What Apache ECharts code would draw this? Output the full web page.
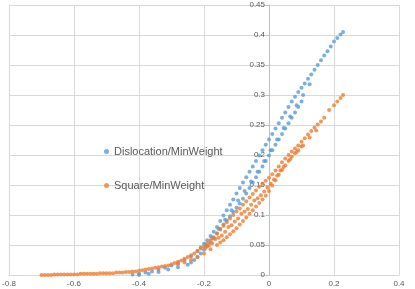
<!DOCTYPE html>
<html><head><meta charset="utf-8">
<script src="https://cdn.jsdelivr.net/npm/echarts@6/dist/echarts.min.js"></script>
<style>html,body{margin:0;padding:0;background:#fff}#c{width:415px;height:289px}</style>
</head><body><div id="c"></div>
<script>
const xTicks = [-0.8, -0.6, -0.4, -0.2, 0, 0.2, 0.4];
const yTicks = [0, 0.05, 0.1, 0.15, 0.2, 0.25, 0.3, 0.35, 0.4, 0.45];
const seriesNames = ['Dislocation/MinWeight', 'Square/MinWeight'];

const blueA = [[-0.42,0.001],[-0.40,0.002],[-0.38,0.004],[-0.36,0.006],[-0.34,0.009],[-0.32,0.012],[-0.30,0.016],[-0.28,0.020],[-0.26,0.025],[-0.24,0.031],[-0.22,0.040],[-0.21,0.046],[-0.20,0.052],[-0.19,0.058],[-0.18,0.065],[-0.17,0.072],[-0.16,0.080],[-0.15,0.090],[-0.14,0.099],[-0.13,0.108],[-0.12,0.117],[-0.11,0.126],[-0.10,0.136],[-0.09,0.145],[-0.08,0.154],[-0.07,0.163],[-0.06,0.172],[-0.05,0.181],[-0.04,0.190],[-0.03,0.199],[-0.02,0.208],[-0.01,0.217],[0.00,0.226],[0.01,0.235],[0.02,0.244],[0.03,0.253],[0.04,0.262],[0.05,0.271],[0.06,0.280],[0.07,0.289],[0.08,0.297],[0.09,0.305],[0.10,0.312],[0.11,0.319],[0.12,0.327],[0.13,0.334],[0.14,0.342],[0.15,0.350],[0.16,0.358],[0.17,0.366],[0.18,0.373],[0.19,0.381],[0.20,0.389],[0.21,0.395],[0.22,0.401],[0.228,0.405]];
const blueB = [[-0.40,0.000],[-0.37,0.002],[-0.34,0.005],[-0.31,0.009],[-0.28,0.013],[-0.25,0.017],[-0.24,0.021],[-0.23,0.025],[-0.22,0.030],[-0.21,0.036],[-0.20,0.042],[-0.19,0.048],[-0.18,0.054],[-0.17,0.061],[-0.16,0.069],[-0.15,0.077],[-0.14,0.084],[-0.13,0.091],[-0.12,0.098],[-0.11,0.105],[-0.10,0.112],[-0.09,0.119],[-0.08,0.127],[-0.07,0.136],[-0.06,0.145],[-0.05,0.154],[-0.04,0.163],[-0.03,0.172],[-0.02,0.181],[-0.01,0.190],[0.00,0.199],[0.01,0.208],[0.02,0.217],[0.03,0.226],[0.04,0.235],[0.05,0.244],[0.06,0.253],[0.07,0.262],[0.08,0.271],[0.09,0.280],[0.10,0.289]];
const blueC = [[-0.195,0.050],[-0.175,0.062],[-0.155,0.077],[-0.135,0.092],[-0.115,0.108],[-0.095,0.124],[-0.075,0.140],[-0.055,0.156],[-0.035,0.172],[-0.015,0.190],[0.005,0.208],[0.025,0.226],[0.045,0.245],[0.065,0.264],[0.085,0.283],[0.105,0.300],[0.125,0.318]];

const orangeTail = [[-0.70,0.000],[-0.69,0.000],[-0.68,0.000],[-0.67,0.000],[-0.66,0.001],[-0.65,0.001],[-0.64,0.001],[-0.63,0.001],[-0.62,0.001],[-0.61,0.001],[-0.60,0.001],[-0.59,0.001],[-0.58,0.002],[-0.57,0.002],[-0.56,0.002],[-0.55,0.002],[-0.54,0.002],[-0.53,0.002],[-0.52,0.003],[-0.51,0.003],[-0.50,0.003],[-0.49,0.003],[-0.48,0.003],[-0.47,0.004],[-0.46,0.004],[-0.45,0.004],[-0.44,0.005],[-0.43,0.005],[-0.42,0.006],[-0.41,0.006],[-0.40,0.007],[-0.39,0.008],[-0.38,0.009],[-0.37,0.010],[-0.36,0.011],[-0.35,0.012],[-0.34,0.013],[-0.33,0.014],[-0.32,0.015],[-0.31,0.016],[-0.30,0.018]];
const orangeA = [[-0.29,0.020],[-0.28,0.022],[-0.27,0.024],[-0.26,0.027],[-0.25,0.030],[-0.24,0.033],[-0.23,0.036],[-0.22,0.040],[-0.21,0.044],[-0.20,0.048],[-0.19,0.053],[-0.18,0.058],[-0.17,0.063],[-0.16,0.069],[-0.15,0.076],[-0.14,0.082],[-0.13,0.088],[-0.12,0.094],[-0.11,0.100],[-0.10,0.106],[-0.09,0.111],[-0.08,0.117],[-0.07,0.123],[-0.06,0.129],[-0.05,0.135],[-0.04,0.141],[-0.03,0.147],[-0.02,0.152],[-0.01,0.157],[0.00,0.162],[0.01,0.168],[0.02,0.174],[0.03,0.181],[0.04,0.188],[0.05,0.194],[0.06,0.200],[0.07,0.206],[0.08,0.211],[0.09,0.216],[0.10,0.222],[0.11,0.228],[0.12,0.234],[0.13,0.240],[0.14,0.246],[0.15,0.251],[0.16,0.256],[0.17,0.262],[0.185,0.275],[0.20,0.283],[0.21,0.289],[0.22,0.295],[0.228,0.300]];
const orangeB = [[-0.28,0.018],[-0.26,0.021],[-0.24,0.025],[-0.22,0.030],[-0.20,0.036],[-0.18,0.043],[-0.16,0.050],[-0.15,0.054],[-0.14,0.058],[-0.13,0.063],[-0.12,0.068],[-0.11,0.073],[-0.10,0.078],[-0.09,0.084],[-0.08,0.090],[-0.07,0.096],[-0.06,0.102],[-0.05,0.108],[-0.04,0.114],[-0.03,0.120],[-0.02,0.126],[-0.01,0.132],[0.00,0.140],[0.01,0.149],[0.02,0.158],[0.03,0.167],[0.04,0.175],[0.05,0.183],[0.06,0.190],[0.07,0.197],[0.08,0.203],[0.09,0.208],[0.10,0.214]];
const orangeC = [[-0.195,0.045],[-0.175,0.053],[-0.155,0.062],[-0.135,0.072],[-0.115,0.083],[-0.095,0.094],[-0.075,0.106],[-0.055,0.117],[-0.035,0.128],[-0.015,0.139],[0.005,0.152],[0.025,0.166],[0.045,0.180],[0.065,0.193],[0.085,0.205],[0.105,0.216],[0.125,0.229],[0.145,0.241]];
const orangeD = [[-0.185,0.049],[-0.165,0.060],[-0.145,0.066],[-0.125,0.080],[-0.105,0.089],[-0.085,0.102],[-0.065,0.110],[-0.045,0.124],[-0.025,0.133],[-0.005,0.146],[0.015,0.159],[0.035,0.174]];

const fmt = v => String(Math.round(v * 100) / 100);
const chart = echarts.init(document.getElementById('c'), null, {renderer: 'canvas'});
chart.setOption({
  animation: false,
  backgroundColor: '#fff',
  textStyle: {fontFamily: 'Liberation Sans, Arial, sans-serif'},
  grid: {left: 9, right: 16, top: 5, bottom: 14, containLabel: false, outerBoundsMode: 'none'},
  legend: {
    orient: 'vertical', left: 99, top: 141, itemGap: 23,
    icon: 'circle', itemWidth: 5, itemHeight: 5,
    textStyle: {color: '#595959', fontSize: 11},
    data: seriesNames
  },
  xAxis: {
    type: 'value', min: xTicks[0], max: xTicks[xTicks.length - 1], interval: 0.2,
    axisLine: {show: true, onZero: false, lineStyle: {color: '#D9D9D9'}},
    axisTick: {show: false},
    axisLabel: {color: '#595959', fontSize: 8, margin: 5, formatter: fmt},
    splitLine: {show: true, lineStyle: {color: '#D9D9D9', width: 1}}
  },
  yAxis: {
    type: 'value', min: yTicks[0], max: yTicks[yTicks.length - 1], interval: 0.05,
    position: 'left', offset: -260,
    axisLine: {show: true, onZero: false, lineStyle: {color: '#BFBFBF'}},
    axisTick: {show: true, length: 3, lineStyle: {color: '#BFBFBF'}},
    axisLabel: {color: '#595959', fontSize: 8, margin: 4, formatter: fmt},
    splitLine: {show: true, lineStyle: {color: '#D9D9D9', width: 1}}
  },
  series: [
    {name: seriesNames[0], type: 'scatter', symbol: 'circle', symbolSize: 4,
     itemStyle: {color: '#5B9BD5'}, data: blueA.concat(blueB, blueC)},
    {name: seriesNames[1], type: 'scatter', symbol: 'circle', symbolSize: 4,
     itemStyle: {color: '#ED7D31'}, data: orangeTail.concat(orangeA, orangeB, orangeC, orangeD)}
  ]
});
</script></body></html>
